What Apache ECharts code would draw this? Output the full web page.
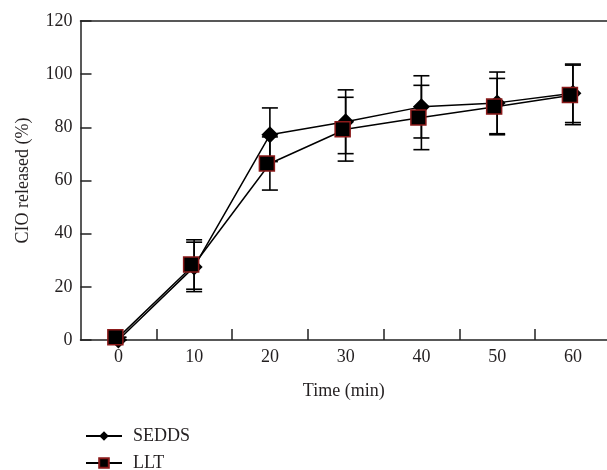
<!DOCTYPE html>
<html>
<head>
<meta charset="utf-8">
<script src="https://cdn.jsdelivr.net/npm/echarts@6/dist/echarts.min.js"></script>
<style>html,body{margin:0;padding:0;background:#fff;}#c{width:607px;height:470px;}</style>
</head>
<body>
<div id="c"></div>
<script>
var timePoints = [0, 10, 20, 30, 40, 50, 60];
var xTickLabels = [0, 10, 20, 30, 40, 50, 60];
var xTickMarks = [5, 15, 25, 35, 45, 55];
var yTicks = [0, 20, 40, 60, 80, 100, 120];
var sedds = [0, 27.5, 77.2, 82.1, 87.7, 89.2, 92.8];
var seddsErr = [0, 9.3, 10.1, 12.0, 11.7, 11.6, 11.0];
var llt = [1.0, 28.4, 66.4, 79.3, 83.7, 87.8, 92.2];
var lltErr = [0, 9.3, 10.0, 12.0, 12.1, 10.6, 11.2];

function pairs(vals) {
  return vals.map(function (v, i) { return [timePoints[i], v]; });
}
function errData(vals, errs) {
  return vals.map(function (v, i) { return [timePoints[i], v - errs[i], v + errs[i]]; });
}
function renderErr(params, api) {
  var x = api.value(0);
  var lo = api.coord([x, api.value(1)]);
  var hi = api.coord([x, api.value(2)]);
  var hw = 8;
  var st = { stroke: '#000', lineWidth: 1.6 };
  return {
    type: 'group',
    children: [
      { type: 'line', shape: { x1: hi[0], y1: hi[1], x2: lo[0], y2: lo[1] }, style: st },
      { type: 'line', shape: { x1: hi[0] - hw, y1: hi[1], x2: hi[0] + hw, y2: hi[1] }, style: st },
      { type: 'line', shape: { x1: lo[0] - hw, y1: lo[1], x2: lo[0] + hw, y2: lo[1] }, style: st }
    ]
  };
}

var font = 'Liberation Serif';
var txt = '#231f20';
var ax = '#222';
var fs = 18;
var xMin = -5, xMax = 64.5;
var legendText = { fontFamily: font, fontSize: fs, color: txt, padding: [0, 0, 0, 6], lineHeight: 20 };
var chart = echarts.init(document.getElementById('c'), null, { renderer: 'canvas' });
chart.setOption({
  animation: false,
  backgroundColor: '#fff',
  textStyle: { fontFamily: font, color: txt },
  grid: { left: 80.5, top: 21, right: 0, bottom: 130, show: false },
  legend: [
    { left: 80, top: 426, padding: [0, 0, 0, 5], itemWidth: 36, itemHeight: 12, textStyle: legendText, data: ['SEDDS'] },
    { left: 80, top: 453, padding: [0, 0, 0, 5], itemWidth: 36, itemHeight: 12, textStyle: legendText, data: ['LLT'] }
  ],
  xAxis: [{
    type: 'value', min: xMin, max: xMax,
    name: 'Time (min)', nameLocation: 'middle', nameGap: 42,
    nameTextStyle: { fontFamily: font, fontSize: fs, color: txt },
    axisLine: { show: true, onZero: false, lineStyle: { color: ax, width: 1.5 } },
    axisTick: { show: true, inside: true, length: 11, customValues: xTickMarks, lineStyle: { color: ax, width: 1.5 } },
    axisLabel: { fontFamily: font, fontSize: fs, color: txt, margin: 8, customValues: xTickLabels },
    splitLine: { show: false }
  }, {
    type: 'value', min: xMin, max: xMax, position: 'top',
    axisLine: { show: true, onZero: false, lineStyle: { color: ax, width: 1.5 } },
    axisTick: { show: false }, axisLabel: { show: false }, splitLine: { show: false }
  }],
  yAxis: {
    type: 'value', min: yTicks[0], max: yTicks[yTicks.length - 1], interval: 20,
    name: 'CIO released (%)', nameLocation: 'middle', nameGap: 48,
    nameTextStyle: { fontFamily: font, fontSize: fs, color: txt },
    axisLine: { show: true, onZero: false, lineStyle: { color: ax, width: 1.5 } },
    axisTick: { show: true, inside: true, length: 11, lineStyle: { color: ax, width: 1.5 } },
    axisLabel: { fontFamily: font, fontSize: fs, color: txt, margin: 8 },
    splitLine: { show: false }
  },
  series: [
    { type: 'custom', name: 'errS', renderItem: renderErr, data: errData(sedds, seddsErr), encode: { x: 0, y: [1, 2] }, z: 1, silent: true },
    { type: 'custom', name: 'errL', renderItem: renderErr, data: errData(llt, lltErr), encode: { x: 0, y: [1, 2] }, z: 1, silent: true },
    {
      type: 'line', name: 'SEDDS', data: pairs(sedds), symbol: 'diamond', symbolSize: [17, 17], z: 3,
      lineStyle: { color: '#000', width: 1.5 },
      itemStyle: { color: '#000', borderColor: '#000', borderWidth: 0 }
    },
    {
      type: 'line', name: 'LLT', data: pairs(llt), symbol: 'rect', symbolSize: 15, symbolOffset: [-3, 0], z: 4,
      lineStyle: { color: '#000', width: 1.5 },
      itemStyle: { color: '#000', borderColor: '#8b1a1a', borderWidth: 1.5 }
    }
  ]
});
</script>
</body>
</html>
